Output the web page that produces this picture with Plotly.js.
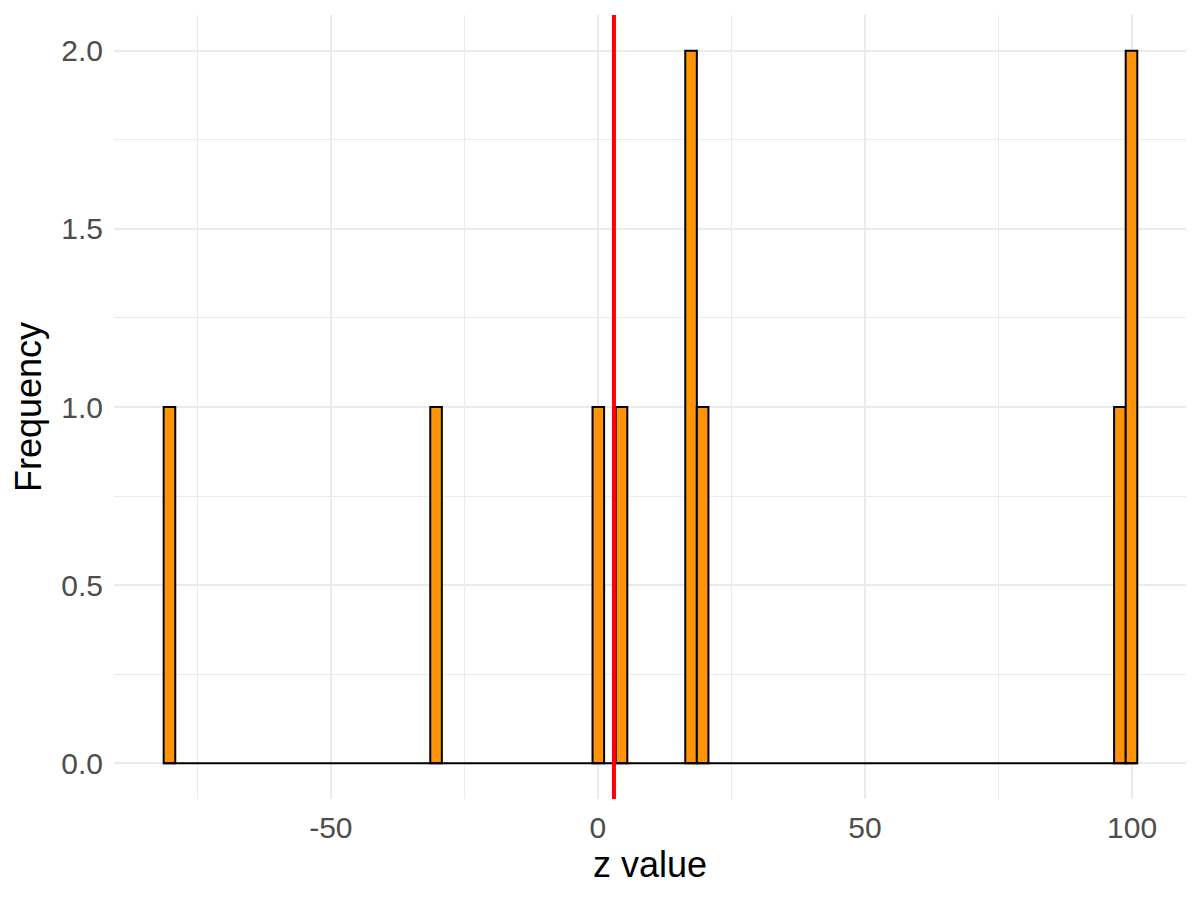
<!DOCTYPE html>
<html>
<head>
<meta charset="utf-8">
<script src="https://cdn.plot.ly/plotly-3.0.1.min.js"></script>
<style>html,body{margin:0;padding:0;background:#fff;}#chart{width:1200px;height:900px;}</style>
</head>
<body>
<div id="chart"></div>
<script>
const zValues = [-80.4, -30.5, -0.1, 4.2, 17.2, 17.2, 19.4, 97.5, 99.7, 99.7];
// histogram binning (ggplot-style bins)
const binStart = -81.3;
const binEnd = 100.98;
const binSize = 2.17;
// reference line position
const refLine = 3.0;
// axis ticks
const xTickVals = [-50, 0, 50, 100];
const xTickText = ["-50", "0", "50", "100"];
const yTickVals = [0, 0.5, 1, 1.5, 2];
const yTickText = ["0.0", "0.5", "1.0", "1.5", "2.0"];

const fontFam = '"Liberation Sans", Arial, Helvetica, sans-serif';

const hist = {
  type: 'histogram',
  x: zValues,
  xbins: {start: binStart, end: binEnd, size: binSize},
  autobinx: false,
  marker: {color: '#FF9408', line: {color: '#000000', width: 2}},
  hoverinfo: 'x+y',
  showlegend: false
};
// outline of the empty bins along the baseline (ggplot draws zero-height bars)
const baseline = {
  type: 'scatter', mode: 'lines',
  x: [binStart, binEnd], y: [0, 0],
  line: {color: '#000000', width: 2},
  hoverinfo: 'skip', showlegend: false
};

const layout = {
  width: 1200, height: 900,
  paper_bgcolor: '#ffffff', plot_bgcolor: '#ffffff',
  margin: {l: 114, r: 14, t: 15, b: 101},
  bargap: 0,
  font: {family: fontFam, color: '#4D4D4D'},
  xaxis: {
    range: [-90.6, 110.1],
    tickvals: xTickVals, ticktext: xTickText,
    showgrid: true, gridcolor: '#EBEBEB', gridwidth: 2,
    minor: {dtick: 25, tick0: 0, showgrid: true, gridcolor: '#EBEBEB', gridwidth: 1},
    zeroline: false, showline: false, ticks: '',
    ticklabelstandoff: 8,
    tickfont: {size: 30, color: '#4D4D4D', family: fontFam},
    title: {text: 'z value', font: {size: 36, color: '#000000', family: fontFam}, standoff: 8}
  },
  yaxis: {
    range: [-0.1, 2.1],
    tickvals: yTickVals, ticktext: yTickText,
    showgrid: true, gridcolor: '#EBEBEB', gridwidth: 2,
    minor: {dtick: 0.25, tick0: 0, showgrid: true, gridcolor: '#EBEBEB', gridwidth: 1},
    zeroline: false, showline: false, ticks: '',
    ticklabelstandoff: 10,
    tickfont: {size: 30, color: '#4D4D4D', family: fontFam},
    title: {text: 'Frequency', font: {size: 36, color: '#000000', family: fontFam}, standoff: 8}
  },
  shapes: [{
    type: 'line', xref: 'x', yref: 'paper',
    x0: refLine, x1: refLine, y0: 0, y1: 1,
    line: {color: '#FF0000', width: 4}, layer: 'above'
  }]
};

Plotly.newPlot('chart', [hist, baseline], layout, {displayModeBar: false, staticPlot: true});
</script>
</body>
</html>
